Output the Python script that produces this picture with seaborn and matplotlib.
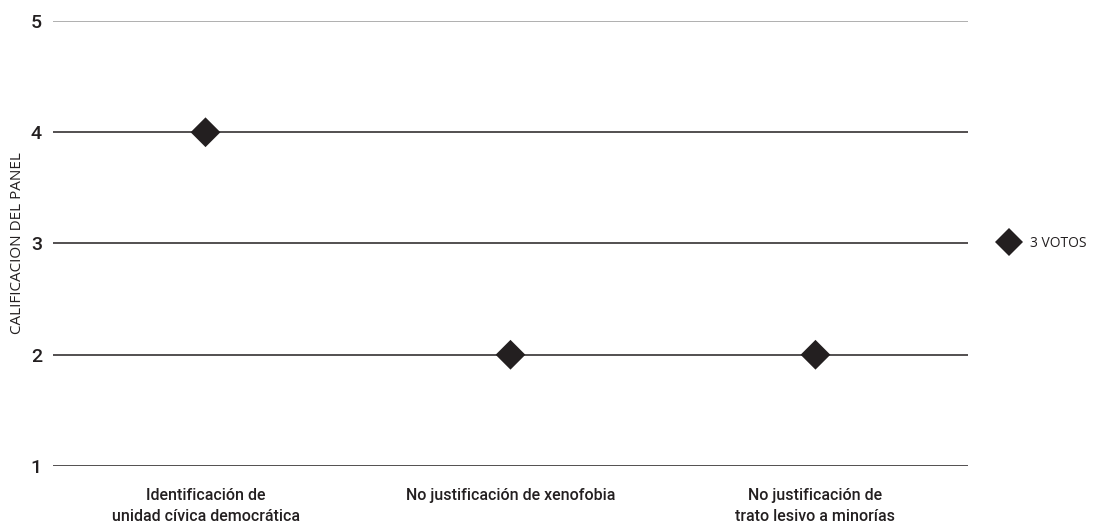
import pandas as pd
import matplotlib.pyplot as plt
import seaborn as sns

# Données
categorias = ['Identificación de\nunidad cívica democrática',
              'No justificación de xenofobia',
              'No justificación de\ntrato lesivo a minorías']
calificacion = [4, 2, 2]
votos = ['3 VOTOS', '3 VOTOS', '3 VOTOS']
niveles = [1, 2, 3, 4, 5]

df = pd.DataFrame({'categoria': categorias, 'calificacion': calificacion, 'votos': votos})

sns.set_theme(style='white')
plt.rcParams['font.family'] = ['Roboto', 'DejaVu Sans']

fig = plt.figure(figsize=(10.93, 5.29), dpi=100)
ax = fig.add_axes([0.0485, 0.1191, 0.8371, 0.8412])

# Lignes horizontales
for n in niveles:
    ax.axhline(n, color='#9a9a9a' if n == niveles[-1] else '#231f20', lw=1.1, zorder=1)

sns.scatterplot(data=df, x='categoria', y='calificacion', hue='votos',
                palette=['#231f20'], marker='D', s=230, edgecolor='none',
                zorder=3, ax=ax)

ax.set_xlim(-0.5, 2.5)
ax.set_ylim(niveles[0], niveles[-1])
ax.set_yticks(niveles)
ax.set_yticklabels([str(n) for n in niveles], fontsize=14, color='#231f20',
                   fontweight='medium')
ax.tick_params(axis='both', length=0)
ax.tick_params(axis='y', pad=8)
ax.tick_params(axis='x', pad=16)
for lbl in ax.get_xticklabels():
    lbl.set_fontsize(11.5)
    lbl.set_fontweight('medium')
    lbl.set_color('#231f20')
    lbl.set_linespacing(1.45)

ax.set_xlabel('')
ax.set_ylabel('CALIFICACION DEL PANEL', fontsize=11, color='#231f20',
              family=['Open Sans', 'DejaVu Sans'], labelpad=4)
for s in ax.spines.values():
    s.set_visible(False)

leg = ax.legend(loc='center left', bbox_to_anchor=(1.016, 0.5), frameon=False,
                handletextpad=0.5, markerscale=0.95,
                prop={'family': ['Open Sans', 'DejaVu Sans'], 'size': 10})
for t in leg.get_texts():
    t.set_color('#231f20')

fig.savefig('out.png', dpi=100)
